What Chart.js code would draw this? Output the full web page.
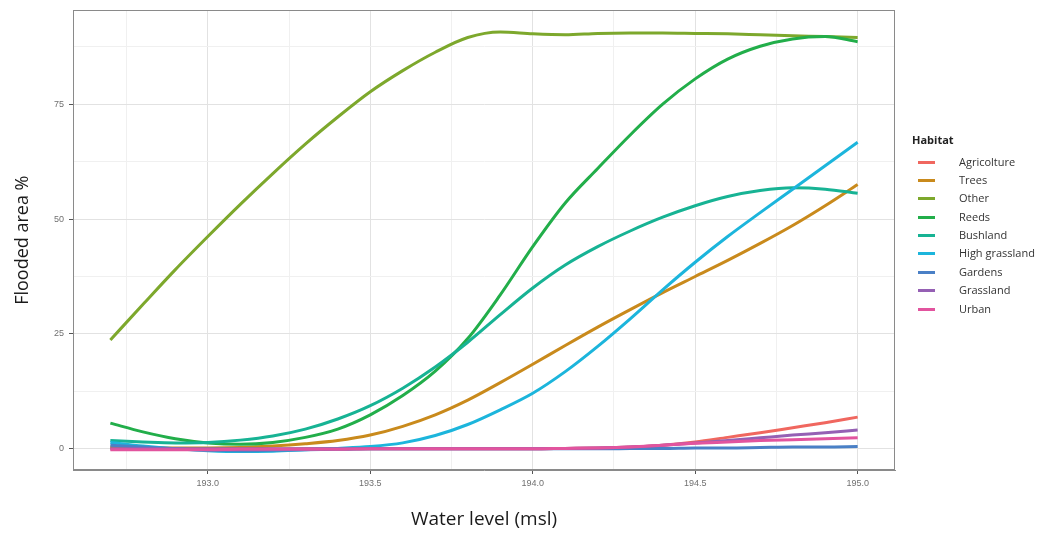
<!DOCTYPE html>
<html>
<head>
<meta charset="utf-8">
<script src="https://cdn.jsdelivr.net/npm/chart.js@4.4.1/dist/chart.umd.min.js"></script>
<style>
  html, body { margin: 0; padding: 0; background: #ffffff; }
  #wrap { position: relative; width: 1049px; height: 538px; overflow: hidden; }
  #c { position: absolute; left: 0; top: 0; }
  #legend { position: absolute; left: 0; top: 0; width: 1049px; height: 538px; pointer-events: none; font-family: "Open Sans", "DejaVu Sans", sans-serif; }
  .lg-title { position: absolute; left: 912px; top: 132px; font-size: 11px; font-weight: 700; color: #222; }
  .lg-line { position: absolute; left: 918px; width: 17px; height: 3px; }
  .lg-text { position: absolute; left: 959px; font-size: 11px; color: #333; line-height: 14px; white-space: nowrap; }
</style>
</head>
<body>
<div id="wrap">
  <canvas id="c" width="1049" height="538"></canvas>
  <div id="legend"></div>
</div>
<script>
// ---------- data ----------
const waterLevel = [192.7, 192.8, 192.9, 193.0, 193.1, 193.2, 193.3, 193.4, 193.5, 193.6, 193.7, 193.8,
                    193.9, 194.0, 194.1, 194.2, 194.3, 194.4, 194.5, 194.6, 194.7, 194.8, 194.9, 195.0];

const habitats = ['Agricolture', 'Trees', 'Other', 'Reeds', 'Bushland', 'High grassland', 'Gardens', 'Grassland', 'Urban'];

const agriculture   = [0.2, 0.1, 0.0, -0.1, -0.1, -0.1, 0.0, 0.0, 0.0, 0.0, 0.0, 0.0, 0.0, 0.0, 0.1, 0.2, 0.4, 0.8, 1.5, 2.5, 3.5, 4.6, 5.7, 6.9];
const trees         = [0.4, 0.3, 0.2, 0.2, 0.3, 0.6, 1.1, 1.8, 3.0, 4.9, 7.4, 10.6, 14.4, 18.4, 22.5, 26.5, 30.3, 34.0, 37.5, 41.0, 44.7, 48.6, 52.9, 57.5];
const other         = [23.7, 31.4, 39.0, 46.2, 53.2, 59.9, 66.3, 72.2, 77.7, 82.3, 86.3, 89.5, 90.7, 90.3, 90.1, 90.4, 90.5, 90.5, 90.4, 90.3, 90.1, 89.9, 89.7, 89.5];
const reeds         = [5.6, 3.7, 2.2, 1.3, 1.0, 1.4, 2.5, 4.3, 7.4, 11.6, 16.9, 24.0, 33.5, 44.0, 53.5, 61.0, 68.3, 75.0, 80.5, 84.8, 87.6, 89.2, 89.7, 88.6];
const bushland      = [1.8, 1.5, 1.3, 1.4, 1.9, 2.8, 4.3, 6.5, 9.4, 13.2, 17.8, 23.2, 29.2, 35.0, 40.0, 44.0, 47.4, 50.4, 52.9, 54.9, 56.2, 56.8, 56.5, 55.6];
const highGrassland = [1.4, 0.6, 0.0, -0.4, -0.6, -0.5, -0.2, 0.1, 0.5, 1.3, 2.9, 5.3, 8.5, 12.1, 16.8, 22.3, 28.3, 34.6, 40.6, 46.2, 51.4, 56.5, 61.6, 66.7];
const gardens       = [0.8, 0.4, 0.0, -0.3, -0.4, -0.3, -0.2, -0.1, 0.0, 0.0, 0.0, 0.0, 0.0, 0.0, 0.0, 0.0, 0.1, 0.1, 0.2, 0.2, 0.3, 0.4, 0.4, 0.5];
const grassland     = [0.0, 0.0, 0.0, 0.0, 0.0, 0.0, 0.0, 0.0, 0.0, 0.0, 0.0, 0.0, 0.0, 0.0, 0.1, 0.2, 0.4, 0.8, 1.3, 1.8, 2.4, 3.0, 3.5, 4.1];
const urban         = [-0.2, -0.2, -0.2, -0.2, -0.1, -0.1, -0.1, -0.1, 0.0, 0.0, 0.0, 0.0, 0.0, 0.0, 0.1, 0.2, 0.4, 0.8, 1.2, 1.5, 1.8, 2.0, 2.2, 2.4];

const seriesValues = [agriculture, trees, other, reeds, bushland, highGrassland, gardens, grassland, urban];

const xMajorTicks = [193.0, 193.5, 194.0, 194.5, 195.0];
const xMinorTicks = [192.75, 193.25, 193.75, 194.25, 194.75];
const yMajorTicks = [0, 25, 50, 75];
const yMinorTicks = [12.5, 37.5, 62.5, 87.5];

const xLabel = 'Water level (msl)';
const yLabel = 'Flooded area %';
const legendTitle = 'Habitat';

// ---------- styling ----------
const colors = ['#F0675F', '#C98A1C', '#7DA82C', '#22AE4A', '#17B394', '#1CB5DC', '#4A80C6', '#9560B4', '#E2549E'];

const xTickValues = xMajorTicks.concat(xMinorTicks).sort((a, b) => a - b);
const yTickValues = yMajorTicks.concat(yMinorTicks).sort((a, b) => a - b);
const isMajor = (list, v) => list.some(m => Math.abs(m - v) < 1e-6);

const datasets = habitats.map((name, i) => ({
  label: name,
  data: waterLevel.map((x, j) => ({ x: x, y: seriesValues[i][j] })),
  borderColor: colors[i],
  backgroundColor: colors[i],
  borderWidth: 3,
  pointRadius: 0,
  pointHoverRadius: 0,
  fill: false,
  cubicInterpolationMode: 'monotone',
  order: habitats.length - i
}));

const panelBorder = {
  id: 'panelBorder',
  afterDatasetsDraw(chart) {
    const a = chart.chartArea, ctx = chart.ctx;
    ctx.save();
    ctx.strokeStyle = '#8a8a8a';
    ctx.lineWidth = 1;
    ctx.strokeRect(Math.round(a.left) + 0.5, Math.round(a.top) + 0.5,
                   Math.round(a.right - a.left) - 1, Math.round(a.bottom - a.top) - 1);
    ctx.restore();
  }
};

const tickFont = { family: '"Liberation Sans", Arial, sans-serif', size: 9 };

new Chart(document.getElementById('c'), {
  type: 'line',
  data: { datasets: datasets },
  plugins: [panelBorder],
  options: {
    responsive: false,
    animation: false,
    devicePixelRatio: 1,
    layout: { padding: { top: 10, right: 154, bottom: 0, left: 0 } },
    plugins: {
      legend: { display: false },
      tooltip: { enabled: false }
    },
    scales: {
      x: {
        type: 'linear',
        min: 192.585,
        max: 195.115,
        afterBuildTicks: (scale) => { scale.ticks = xTickValues.map(v => ({ value: v })); },
        afterFit: (scale) => { scale.height = 68; },
        ticks: {
          autoSkip: false,
          maxRotation: 0,
          padding: 4,
          color: '#707070',
          font: tickFont,
          callback: (v) => isMajor(xMajorTicks, v) ? v.toFixed(1) : ''
        },
        grid: {
          color: (ctx) => ctx.tick && isMajor(xMajorTicks, ctx.tick.value) ? '#e2e2e2' : '#f0f0f0',
          lineWidth: 1,
          tickLength: 4,
          tickColor: (ctx) => ctx.tick && isMajor(xMajorTicks, ctx.tick.value) ? '#555555' : 'rgba(0,0,0,0)',
          drawTicks: true
        },
        border: { display: true, color: '#8a8a8a' },
        title: {
          display: true,
          text: xLabel,
          color: '#1a1a1a',
          font: { family: '"Open Sans", "DejaVu Sans", sans-serif', size: 19 },
          padding: { top: 0, bottom: 7 }
        }
      },
      y: {
        type: 'linear',
        min: -4.6,
        max: 95.4,
        afterBuildTicks: (scale) => { scale.ticks = yTickValues.map(v => ({ value: v })); },
        afterFit: (scale) => { scale.width = 73; },
        ticks: {
          autoSkip: false,
          padding: 5,
          color: '#707070',
          font: tickFont,
          callback: (v) => isMajor(yMajorTicks, v) ? String(v) : ''
        },
        grid: {
          color: (ctx) => ctx.tick && isMajor(yMajorTicks, ctx.tick.value) ? '#e2e2e2' : '#f0f0f0',
          lineWidth: 1,
          tickLength: 4,
          tickColor: (ctx) => ctx.tick && isMajor(yMajorTicks, ctx.tick.value) ? '#555555' : 'rgba(0,0,0,0)',
          drawTicks: true
        },
        border: { display: true, color: '#8a8a8a' },
        title: {
          display: true,
          text: yLabel,
          color: '#1a1a1a',
          font: { family: '"Open Sans", "DejaVu Sans", sans-serif', size: 18 },
          padding: { top: 12, bottom: 0 }
        }
      }
    }
  }
});

// ---------- legend (HTML, built from the same arrays) ----------
const legend = document.getElementById('legend');
const t = document.createElement('div');
t.className = 'lg-title';
t.textContent = legendTitle;
legend.appendChild(t);
habitats.forEach((name, i) => {
  const cy = 162 + i * 18.375;
  const line = document.createElement('div');
  line.className = 'lg-line';
  line.style.top = (cy - 1.5) + 'px';
  line.style.background = colors[i];
  legend.appendChild(line);
  const txt = document.createElement('div');
  txt.className = 'lg-text';
  txt.style.top = (cy - 7.5) + 'px';
  txt.textContent = name;
  legend.appendChild(txt);
});
</script>
</body>
</html>
